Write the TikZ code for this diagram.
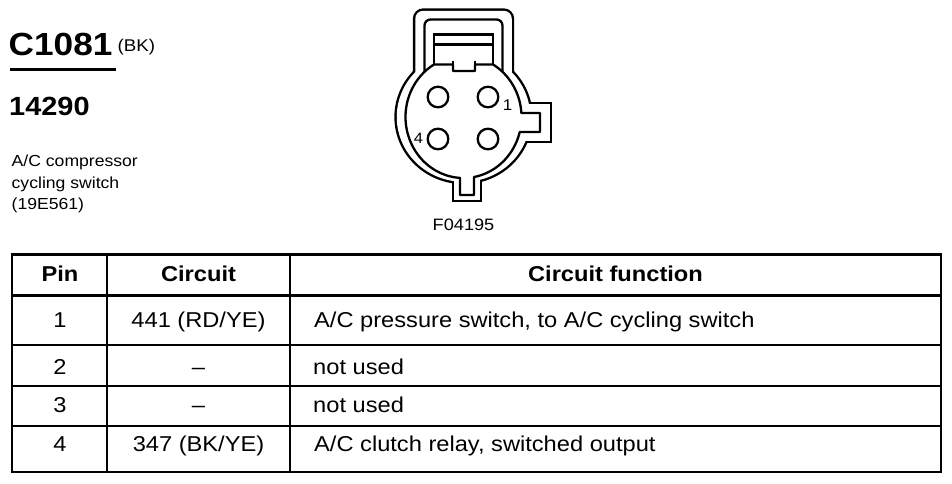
\documentclass[tikz,border=0pt]{standalone}
\usepackage{fontspec}
\setmainfont{Liberation Sans}[FakeStretch=1.1]
\newcommand\myfs[1]{\fontsize{#1}{#1}\selectfont}
\begin{document}
\begin{tikzpicture}[x=1pt,y=-1pt,
  tline/.style={line width=2.8pt},
  cline/.style={line width=2.3pt},
  shell/.style={line width=4.8pt},
  ctr/.style={inner sep=0pt, anchor=base},
  lft/.style={inner sep=0pt, anchor=base west},
  hdr/.style={ctr, font=\myfs{21.5}\bfseries},
  cell/.style={ctr, font=\myfs{21.5}},
  fcell/.style={lft, font=\myfs{21.5}}]
\useasboundingbox (0,0) rectangle (952,483);

% ---------- title block ----------
\node[lft, font=\myfs{32}\bfseries] (title) at (8.5,55.7) {C1081};
\node[lft, font=\myfs{17}] (bk) at (117.5,51.7) {(BK)};
\coordinate (ulA) at (10,69.5);
\coordinate (ulB) at (116,69.5);
\draw[line width=2.7pt] (ulA) -- (ulB);
\node[lft, font=\myfs{26.3}\bfseries] (num) at (9,115.7) {14290};
\node[lft, font=\myfs{16}] (d1) at (11.5,166.7) {A/C compressor};
\node[lft, font=\myfs{16}] (d2) at (11.5,188) {cycling switch};
\node[lft, font=\myfs{16}] (d3) at (11.5,209.8) {(19E561)};

% ---------- connector outer shell (union outline) ----------
\draw[shell] (463.5,117) ellipse[x radius=66.75, y radius=64.75];
\draw[shell, rounded corners=8pt] (415.25,95) -- (415.25,10.75) -- (511.75,10.75) -- (511.75,95) -- cycle;
\draw[shell] (500,104.25) rectangle (549.75,140.75);
\draw[shell] (454.25,150) rectangle (479.75,199.75);
\fill[white] (463.5,117) ellipse[x radius=66.75, y radius=64.75];
\fill[white, rounded corners=8pt] (415.25,95) -- (415.25,10.75) -- (511.75,10.75) -- (511.75,95) -- cycle;
\fill[white] (500,104.25) rectangle (549.75,140.75);
\fill[white] (454.25,150) rectangle (479.75,199.75);

% ---------- connector inner outline ----------
\draw[cline, line join=round]
  (493,64.5)
  -- plot[domain=-59.43:-3.76, samples=40, variable=\t] ({463.5+58*cos(\t)},{117+61*sin(\t)})
  -- (540,113) -- (540,132)
  -- plot[domain=14.23:79.57, samples=40, variable=\t] ({463.5+58*cos(\t)},{117+61*sin(\t)})
  -- (474,195) -- (460,195)
  -- plot[domain=93.46:239.43, samples=80, variable=\t] ({463.5+58*cos(\t)},{117+61*sin(\t)})
  -- (453,64.5) -- (453,71) -- (475,71) -- (475,64.5) -- cycle;
\draw[cline] (453,60.5) -- (453,64.5);
\draw[cline] (475,60.5) -- (475,64.5);
% inner loop
\draw[cline, rounded corners=6pt] (424.5,71.8) -- (424.5,19.5) -- (502.5,19.5) -- (502.5,71.8);
% latch
\draw[cline] (434,64.5) -- (434,34.5) -- (493,34.5) -- (493,64.5);
\draw[cline] (434,44.5) -- (493,44.5);

% pins
\draw[cline] (438,97) circle[radius=10.3];
\draw[cline] (488,97) circle[radius=10.3];
\draw[cline] (438,139) circle[radius=10.3];
\draw[cline] (488,139) circle[radius=10.3];
\node[ctr, font=\myfs{15.5}] (p1) at (507.5,110) {1};
\node[ctr, font=\myfs{15}] (p4) at (418.5,143.5) {4};
\node[ctr, font=\myfs{16.5}] (fig) at (463.5,230) {F04195};

% ---------- table ----------
\draw[tline] (12,254.5) rectangle (941,472);
\draw[tline] (12,295.5) -- (941,295.5);
\draw[tline] (12,345) -- (941,345);
\draw[tline] (12,386) -- (941,386);
\draw[tline] (12,426) -- (941,426);
\draw[tline] (107,254.5) -- (107,472);
\draw[tline] (290,254.5) -- (290,472);

\node[hdr] (hpin) at (60,281) {Pin};
\node[hdr] (hcir) at (198.5,281) {Circuit};
\node[hdr] (hfun) at (615.5,281) {Circuit function};

\node[cell] (r1p) at (60,327) {1};
\node[cell] (r1c) at (198.5,327) {441 (RD/YE)};
\node[fcell] (r1f) at (314,327) {A/C pressure switch, to A/C cycling switch};

\node[cell] (r2p) at (60,374) {2};
\node[cell] (r2c) at (198.5,374) {–};
\node[fcell] (r2f) at (313,374) {not used};

\node[cell] (r3p) at (60,412) {3};
\node[cell] (r3c) at (198.5,412) {–};
\node[fcell] (r3f) at (313,412) {not used};

\node[cell] (r4p) at (60,451) {4};
\node[cell] (r4c) at (198.5,451) {347 (BK/YE)};
\node[fcell] (r4f) at (314,451) {A/C clutch relay, switched output};
\end{tikzpicture}
\end{document}
